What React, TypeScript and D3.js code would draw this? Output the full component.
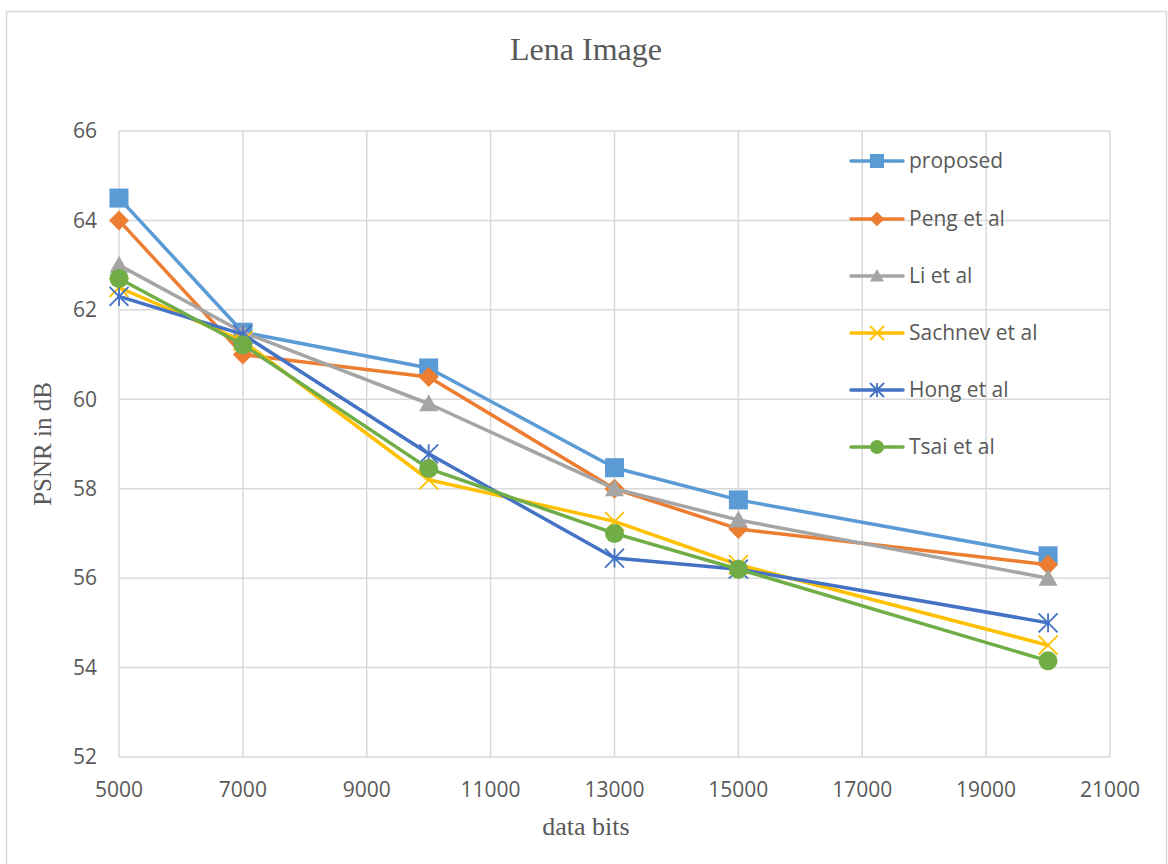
import React from "react";
import * as d3 from "d3";

const xValues = [5000, 7000, 10000, 13000, 15000, 20000];
const seriesNames = ["proposed", "Peng et al", "Li et al", "Sachnev et al", "Hong et al", "Tsai et al"];
const proposed = [64.5, 61.5, 60.7, 58.47, 57.75, 56.5];
const peng = [64.0, 61.0, 60.5, 58.0, 57.1, 56.3];
const li = [63.0, 61.5, 59.9, 58.0, 57.3, 56.0];
const sachnev = [62.5, 61.3, 58.2, 57.27, 56.3, 54.5];
const hong = [62.3, 61.45, 58.78, 56.45, 56.2, 55.0];
const tsai = [62.7, 61.22, 58.45, 57.0, 56.2, 54.15];
const xTicks = [5000, 7000, 9000, 11000, 13000, 15000, 17000, 19000, 21000];
const yTicks = [52, 54, 56, 58, 60, 62, 64, 66];

const seriesValues = [proposed, peng, li, sachnev, hong, tsai];
const colors = ["#5B9BD5", "#ED7D31", "#A5A5A5", "#FFC000", "#4472C4", "#70AD47"];
const markers = ["square", "diamond", "triangle", "x", "star", "circle"];

function Marker({ type, cx, cy, size, color }: { type: string; cx: number; cy: number; size: number; color: string }) {
  const h = size / 2;
  if (type === "square") return <rect x={cx - h} y={cy - h} width={size} height={size} fill={color} />;
  if (type === "diamond")
    return <path d={`M${cx},${cy - h * 1.05}L${cx + h * 1.05},${cy}L${cx},${cy + h * 1.05}L${cx - h * 1.05},${cy}Z`} fill={color} />;
  if (type === "triangle")
    return <path d={`M${cx},${cy - h}L${cx + h},${cy + h * 0.8}L${cx - h},${cy + h * 0.8}Z`} fill={color} />;
  if (type === "circle") return <circle cx={cx} cy={cy} r={h} fill={color} />;
  if (type === "x")
    return (
      <path d={`M${cx - h},${cy - h}L${cx + h},${cy + h}M${cx - h},${cy + h}L${cx + h},${cy - h}`} stroke={color} strokeWidth={1.8} fill="none" />
    );
  return (
    <path
      d={`M${cx - h},${cy - h}L${cx + h},${cy + h}M${cx - h},${cy + h}L${cx + h},${cy - h}M${cx},${cy - h}L${cx},${cy + h}`}
      stroke={color}
      strokeWidth={1.8}
      fill="none"
    />
  );
}

export default function App() {
  const W = 1168, H = 864;
  const left = 119, right = 1110, top = 131, bottom = 757;
  const x = d3.scaleLinear().domain([5000, 21000]).range([left, right]);
  const y = d3.scaleLinear().domain([52, 66]).range([bottom, top]);
  const line = d3
    .line<number>()
    .x((_, i) => x(xValues[i]))
    .y((d) => y(d));
  const tickFont = "'Open Sans', 'Liberation Sans', sans-serif";
  const serif = "'Liberation Serif', 'Times New Roman', serif";
  const legendY = [161, 219, 276, 333, 390, 447];

  return (
    <svg width={W} height={H} style={{ position: "absolute", left: 0, top: 0, background: "#fff" }}>
      <rect x={0} y={0} width={W} height={H} fill="#fff" />
      <rect x={6.5} y={11.5} width={1160} height={870} fill="#fff" stroke="#D9D9D9" strokeWidth={1.5} />
      {yTicks.map((t) => (
        <line key={"gy" + t} x1={left} x2={right} y1={y(t)} y2={y(t)} stroke="#D9D9D9" strokeWidth={1.5} />
      ))}
      {xTicks.map((t) => (
        <line key={"gx" + t} x1={x(t)} x2={x(t)} y1={top} y2={bottom} stroke="#D9D9D9" strokeWidth={1.5} />
      ))}
      {yTicks.map((t) => (
        <text key={"ty" + t} x={97} y={y(t)} dy="0.35em" textAnchor="end" fontFamily={tickFont} fontSize={21} fill="#595959">
          {t}
        </text>
      ))}
      {xTicks.map((t) => (
        <text key={"tx" + t} x={x(t)} y={797} textAnchor="middle" fontFamily={tickFont} fontSize={21} fill="#595959">
          {t}
        </text>
      ))}
      <text x={586} y={60} textAnchor="middle" fontFamily={serif} fontSize={32} fill="#595959">
        Lena Image
      </text>
      <text x={586} y={835} textAnchor="middle" fontFamily={serif} fontSize={26} fill="#595959">
        data bits
      </text>
      <text
        transform={`translate(51,${(top + bottom) / 2}) rotate(-90)`}
        textAnchor="middle"
        fontFamily={serif}
        fontSize={25}
        fill="#595959"
      >
        PSNR in dB
      </text>
      {seriesValues.map((vals, si) => (
        <g key={"s" + si}>
          <path d={line(vals) || ""} fill="none" stroke={colors[si]} strokeWidth={3.5} strokeLinejoin="round" strokeLinecap="round" />
          {vals.map((v, i) => (
            <Marker key={i} type={markers[si]} cx={x(xValues[i])} cy={y(v)} size={19} color={colors[si]} />
          ))}
        </g>
      ))}
      {seriesNames.map((name, si) => (
        <g key={"l" + si}>
          <line x1={851} x2={903} y1={legendY[si]} y2={legendY[si]} stroke={colors[si]} strokeWidth={3.5} strokeLinecap="round" />
          <Marker type={markers[si]} cx={877} cy={legendY[si]} size={14} color={colors[si]} />
          <text x={909} y={legendY[si]} dy="0.35em" fontFamily={tickFont} fontSize={21} fill="#595959">
            {name}
          </text>
        </g>
      ))}
    </svg>
  );
}
